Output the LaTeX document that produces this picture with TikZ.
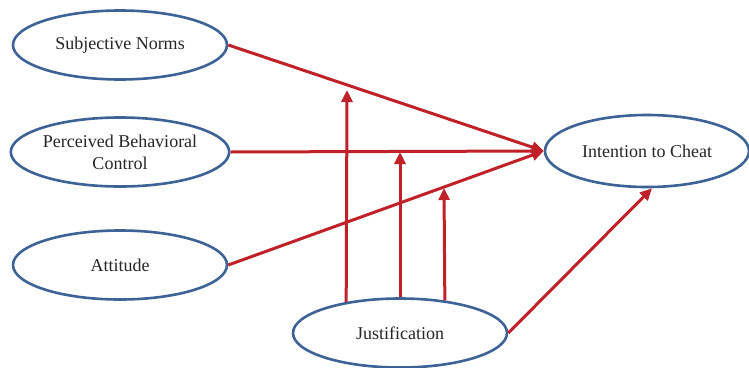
\documentclass[tikz,border=0pt]{standalone}
\usepackage{fontspec}
\setmainfont{Liberation Serif}
\usetikzlibrary{shapes.geometric,arrows.meta}
\definecolor{ellblue}{RGB}{60,98,150}
\definecolor{arrred}{RGB}{192,32,40}
\begin{document}
\begin{tikzpicture}[x=1pt,y=-1pt,
  oval/.style={ellipse,draw=ellblue,line width=2.6pt,fill=white,inner sep=0pt,
    minimum width=214pt,minimum height=69pt,font=\fontsize{18}{22}\selectfont,align=center,text=black!85},
  arr/.style={draw=arrred,line width=3pt,-{Triangle[length=12pt,width=11pt]}}]
\useasboundingbox (0,0) rectangle (749,367);
\fill[white] (0,0) rectangle (749,367);
\node[oval] (SN) at (120,45) {Subjective Norms};
\node[oval] (PBC) at (120,152) {Perceived Behavioral\\Control};
\node[oval] (AT) at (120,265) {Attitude};
\node[oval] (J) at (400,333) {Justification};
\node[oval,minimum width=204pt,minimum height=72pt] (IC) at (647,151) {Intention to Cheat};
\coordinate (t1) at (347,90);
\coordinate (t2) at (400,152);
\coordinate (t3) at (444,188);
\draw[arr] (SN.east) -- (IC.west);
\draw[arr] (PBC.east) -- (IC.west);
\draw[arr] (AT.east) -- (IC.west);
\draw[arr] (J.east) -- ([xshift=5pt]IC.south);
\draw[arr] (J.150) -- (t1);
\draw[arr] (J.north) -- (t2);
\draw[arr] (J.36) -- (t3);
\end{tikzpicture}
\end{document}
